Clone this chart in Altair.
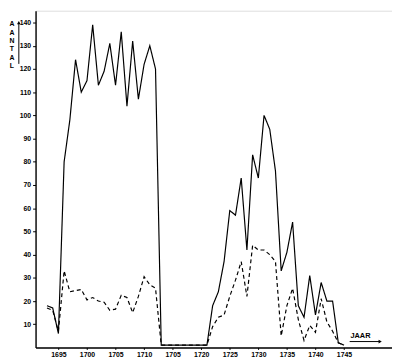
import altair as alt
import pandas as pd

years = list(range(1693, 1746))
solid = [18, 17, 6, 80, 98, 124, 110, 115, 139, 113, 119, 131, 113, 136, 104, 132, 107, 122, 130, 120,
         1, 1, 1, 1, 1, 1, 1, 1, 1,
         18, 24, 37, 59, 57, 73, 42, 83, 73, 100, 94, 76, 33, 41, 54, 18, 13, 31, 14, 28, 20, 20, 2, 1]
dashed = [17, 16, 7, 33, 24, 24.5, 25, 20.5, 21.5, 20, 19.5, 16, 16.5, 22.5, 21.5, 15, 22, 30.5, 27, 25.5,
          1, 1, 1, 1, 1, 1, 1, 1, 1,
          9, 13, 14, 22, 29, 37, 22, 44, 42, 42, 40, 37, 5, 18, 25.5, 12, 3, 9.5, 6.5, 21, 11, 7, 2, 1]
x_ticks = [1695, 1700, 1705, 1710, 1715, 1720, 1725, 1730, 1735, 1740, 1745]
y_ticks = [10, 20, 30, 40, 50, 60, 70, 80, 90, 100, 110, 120, 130, 140]

df = pd.DataFrame({
    "year": years * 2,
    "value": solid + dashed,
    "series": ["solid"] * len(years) + ["dashed"] * len(years),
})

FONT = "Liberation Sans"

lines = alt.Chart(df).mark_line(color="black", strokeWidth=1.2).encode(
    x=alt.X("year:Q",
            scale=alt.Scale(domain=[1691, 1753.4], nice=False, zero=False),
            axis=alt.Axis(values=x_ticks, format="d",
                          labelExpr="datum.value == 1715 ? '1705' : datum.label",
                          title=None, grid=False, tickSize=2, labelPadding=1,
                          labelFont=FONT, labelFontSize=7, labelFontWeight="bold",
                          labelColor="black", tickColor="black", domainColor="black",
                          domainWidth=1.4, tickWidth=1)),
    y=alt.Y("value:Q",
            scale=alt.Scale(domain=[0, 145.1], nice=False),
            axis=alt.Axis(values=y_ticks, title=None, grid=False, tickSize=3, labelPadding=2,
                          labelFont=FONT, labelFontSize=7, labelFontWeight="bold",
                          labelColor="black", tickColor="black", domainColor="black",
                          domainWidth=1.4, tickWidth=1)),
    strokeDash=alt.StrokeDash("series:N",
                              scale=alt.Scale(domain=["solid", "dashed"], range=[[1, 0], [4, 3]]),
                              legend=None),
    detail="series:N",
)

one = pd.DataFrame({"k": [0]})

aantal = alt.Chart(one).mark_text(
    text=list("AANTAL"), lineHeight=8.4, baseline="top", align="center",
    font=FONT, fontSize=7, fontWeight="bold", color="black"
).encode(x=alt.value(-24), y=alt.value(10))

up_rule = alt.Chart(one).mark_rule(color="black", strokeWidth=1).encode(
    x=alt.value(-17), y=alt.value(13), y2=alt.value(54))
up_head = alt.Chart(one).mark_point(shape="triangle-up", filled=True, color="black",
                                    size=14, opacity=1).encode(
    x=alt.value(-17), y=alt.value(12))

jaar = alt.Chart(one).mark_text(
    text="JAAR", baseline="middle", align="center",
    font=FONT, fontSize=7.5, fontWeight="bold", color="black"
).encode(x=alt.value(330), y=alt.value(330))
right_rule = alt.Chart(one).mark_rule(color="black", strokeWidth=1).encode(
    x=alt.value(319), x2=alt.value(349), y=alt.value(336))
right_head = alt.Chart(one).mark_point(shape="triangle-right", filled=True, color="black",
                                       size=14, opacity=1).encode(
    x=alt.value(350), y=alt.value(336))

chart = alt.layer(lines, aantal, up_rule, up_head, jaar, right_rule, right_head).properties(
    width=362, height=342,
    padding={"left": 28, "top": 0, "right": 0, "bottom": 12},
    autosize=alt.AutoSizeParams(type="none"),
).configure_view(stroke=None).configure(background="white")

chart.save("out.html", embed_options={"renderer": "svg", "actions": False})
